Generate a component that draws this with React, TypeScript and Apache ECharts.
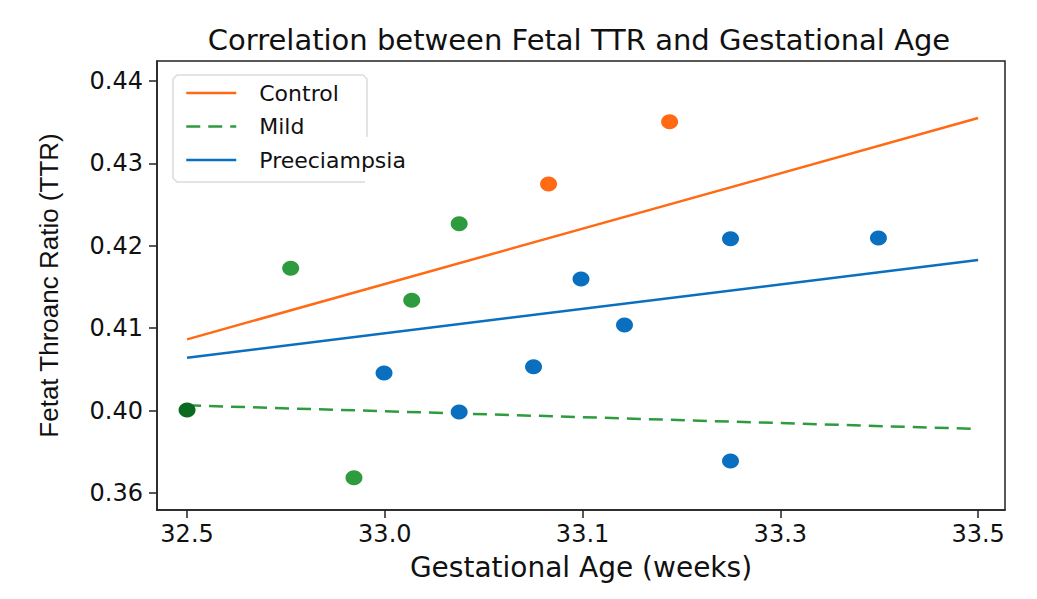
import React, { useEffect, useRef } from "react";
import * as echarts from "echarts";

// ---- data (x positions on the evenly spaced axis, y values) ----
const xTickValues = [32.5, 32.75, 33.0, 33.25, 33.5];
const xTickLabels = ["32.5", "33.0", "33.1", "33.3", "33.5"];
const yTickValues = [0.39, 0.4, 0.41, 0.42, 0.43, 0.44];
const yTickLabels = ["0.36", "0.40", "0.41", "0.42", "0.43", "0.44"];

const controlPoints = [
  [32.957, 0.4275],
  [33.11, 0.43506],
];
const mildPoints = [
  [32.5, 0.40007],
  [32.631, 0.41727],
  [32.711, 0.39186],
  [32.784, 0.41339],
  [32.844, 0.42268],
];
const preePoints = [
  [32.749, 0.40456],
  [32.844, 0.39983],
  [32.938, 0.40533],
  [32.998, 0.41597],
  [33.053, 0.41039],
  [33.187, 0.42086],
  [33.187, 0.39388],
  [33.374, 0.42095],
];
const controlFit = [
  [32.5, 0.40865],
  [33.5, 0.43551],
];
const mildFit = [
  [32.5, 0.40064],
  [33.5, 0.39777],
];
const preeFit = [
  [32.5, 0.40642],
  [33.5, 0.41828],
];
const seriesNames = ["Control", "Mild", "Preeciampsia"];

const ORANGE = "#ff6a13";
const GREEN = "#2e9b3e";
const DARK_GREEN = "#0a6a20";
const BLUE = "#0a6fbf";
const FONT = "DejaVu Sans";

function labelFor(values: number[], labels: string[], v: number) {
  for (let i = 0; i < values.length; i++) {
    if (Math.abs(values[i] - v) < 1e-6) return labels[i];
  }
  return "";
}

export default function App() {
  const ref = useRef<HTMLDivElement>(null);
  useEffect(() => {
    if (!ref.current) return;
    const chart = echarts.init(ref.current, null, { renderer: "svg" });
    const dot = [17, 15];
    chart.setOption({
      animation: false,
      backgroundColor: "#ffffff",
      title: {
        text: "Correlation between Fetal TTR and Gestational Age",
        left: 579,
        top: 25,
        padding: 0,
        textAlign: "center",
        textStyle: { fontFamily: FONT, fontSize: 29, fontWeight: "normal", color: "#111" },
      },
      grid: {
        left: 157,
        right: 32,
        top: 61,
        bottom: 89,
        show: true,
        borderColor: "#222",
        borderWidth: 1.5,
        backgroundColor: "transparent",
      },
      xAxis: {
        type: "value",
        min: 32.462,
        max: 33.534,
        name: "Gestational Age (weeks)",
        nameLocation: "middle",
        nameGap: 43,
        nameTextStyle: { fontFamily: FONT, fontSize: 28, color: "#111" },
        axisLine: { show: true, lineStyle: { color: "#222", width: 1.5 } },
        axisTick: { show: true, inside: false, length: 8, customValues: xTickValues, lineStyle: { color: "#222", width: 1.5 } },
        axisLabel: {
          customValues: xTickValues,
          margin: 12,
          fontFamily: FONT,
          fontSize: 24,
          color: "#111",
          formatter: (v: number) => labelFor(xTickValues, xTickLabels, v),
        },
        splitLine: { show: false },
      },
      yAxis: {
        type: "value",
        min: 0.38794,
        max: 0.44243,
        name: "Fetat Throanc Ratio (TTR)",
        nameLocation: "middle",
        nameGap: 95,
        nameRotate: 90,
        nameTextStyle: { fontFamily: "Liberation Sans", fontSize: 26, color: "#111" },
        axisLine: { show: true, lineStyle: { color: "#222", width: 1.5 } },
        axisTick: { show: true, inside: false, length: 8, customValues: yTickValues, lineStyle: { color: "#222", width: 1.5 } },
        axisLabel: {
          customValues: yTickValues,
          margin: 14,
          fontFamily: FONT,
          fontSize: 24,
          color: "#111",
          formatter: (v: number) => labelFor(yTickValues, yTickLabels, v),
        },
        splitLine: { show: false },
      },
      legend: {
        data: seriesNames,
        orient: "vertical",
        left: 173,
        top: 75,
        padding: [5, 12, 9, 12],
        itemWidth: 50,
        itemHeight: 26,
        itemGap: 7.5,
        z: 10,
        itemStyle: { opacity: 0 },
        lineStyle: { width: 2.5 },
        textStyle: { fontFamily: FONT, fontSize: 22, color: "#111", lineHeight: 26, padding: [0, 0, 0, 18] },
      },
      graphic: [
        {
          type: "rect",
          z: 5,
          shape: { x: 173, y: 75, width: 194, height: 107, r: 5 },
          style: { fill: "#ffffff", stroke: null },
        },
        {
          type: "polyline",
          z: 6,
          shape: {
            points: [
              [367, 137],
              [367, 79],
              [363, 75],
              [177, 75],
              [173, 79],
              [173, 178],
              [177, 182],
              [365, 182],
            ],
          },
          style: { fill: null, stroke: "#dcdcdc", lineWidth: 1.5 },
        },
      ],
      series: [
        {
          name: "Control",
          type: "line",
          data: controlFit,
          symbol: "none",
          z: 2,
          color: ORANGE,
          lineStyle: { color: ORANGE, width: 2.5 },
        },
        {
          name: "Mild",
          type: "line",
          data: mildFit,
          symbol: "none",
          z: 2,
          color: GREEN,
          lineStyle: { color: GREEN, width: 2.5, type: [14, 8] },
        },
        {
          name: "Preeciampsia",
          type: "line",
          data: preeFit,
          symbol: "none",
          z: 2,
          color: BLUE,
          lineStyle: { color: BLUE, width: 2.5 },
        },
        {
          name: "Control points",
          type: "scatter",
          data: controlPoints,
          symbolSize: dot,
          z: 3,
          itemStyle: { color: ORANGE, opacity: 1 },
        },
        {
          name: "Mild points",
          type: "scatter",
          data: mildPoints.map((p, i) =>
            i === 0 ? { value: p, itemStyle: { color: DARK_GREEN } } : { value: p }
          ),
          symbolSize: dot,
          z: 3,
          itemStyle: { color: GREEN, opacity: 1 },
        },
        {
          name: "Preeciampsia points",
          type: "scatter",
          data: preePoints,
          symbolSize: dot,
          z: 3,
          itemStyle: { color: BLUE, opacity: 1 },
        },
      ],
    });
    return () => chart.dispose();
  }, []);
  return (
    <div
      ref={ref}
      style={{ position: "absolute", left: 0, top: 0, width: 1037, height: 599 }}
    />
  );
}
